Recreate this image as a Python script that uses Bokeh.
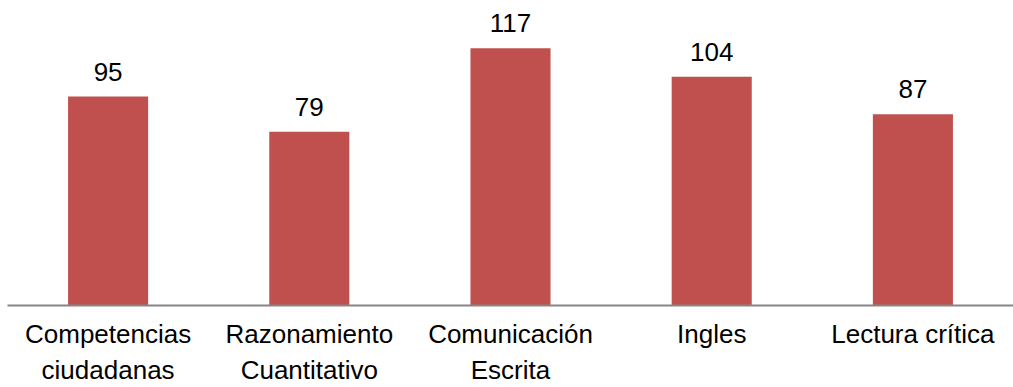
from bokeh.plotting import figure
from bokeh.models import ColumnDataSource, Range1d, FactorRange
from bokeh.core.properties import value
from bokeh.embed import file_html
from bokeh.resources import INLINE

categories = ["Competencias\nciudadanas", "Razonamiento\nCuantitativo",
              "Comunicación\nEscrita", "Ingles", "Lectura crítica"]
values = [95, 79, 117, 104, 87]
labels = [str(v) for v in values]

src = ColumnDataSource(dict(cat=categories, val=values, lab=labels))

p = figure(x_range=FactorRange(*categories), y_range=Range1d(0, 138.7),
           width=1013, height=387, output_backend="svg", toolbar_location=None,
           min_border_left=7, min_border_right=0, min_border_top=0, min_border_bottom=0)
p.outline_line_color = None
p.background_fill_color = "white"
p.border_fill_color = "white"

p.vbar(x="cat", top="val", width=0.398, source=src, color="#C0504D", line_color=None)
p.text(x="cat", y="val", text="lab", source=src, text_align="center",
       text_baseline="alphabetic", y_offset=-25, text_font=value("Liberation Sans"),
       text_font_size="26px", text_color="black")

p.xgrid.visible = False
p.ygrid.visible = False
p.yaxis.visible = False
p.xaxis.axis_line_color = "#868686"
p.xaxis.axis_line_width = 2
p.xaxis.major_tick_line_color = None
p.xaxis.minor_tick_line_color = None
p.xaxis.major_tick_out = 0
p.xaxis.major_tick_in = 0
p.xaxis.major_label_standoff = 13
p.xaxis.major_label_text_font = "Liberation Sans"
p.xaxis.major_label_text_font_size = "26px"
p.xaxis.major_label_text_color = "black"

open("out.html", "w").write(file_html(p, INLINE))
